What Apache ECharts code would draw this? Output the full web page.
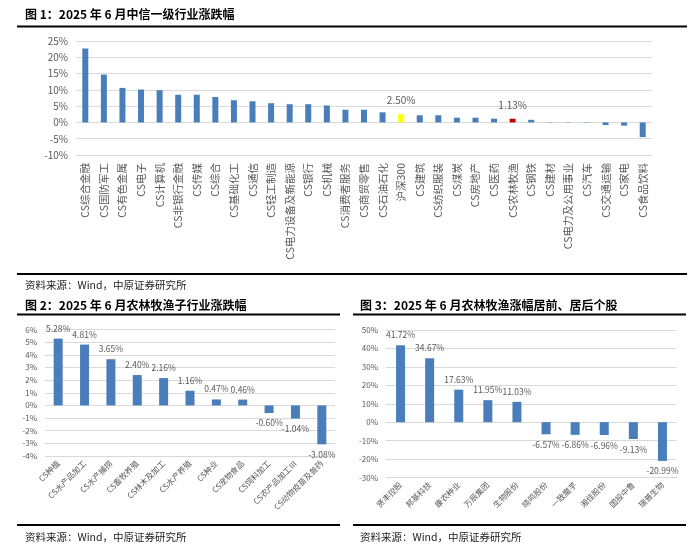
<!DOCTYPE html>
<html><head><meta charset="utf-8">
<script src="https://cdn.jsdelivr.net/npm/echarts@6/dist/echarts.min.js"></script>
<style>html,body{margin:0;padding:0;background:#fff}#c{width:700px;height:553px}</style>
</head><body><div id="c"></div>
<script>
// Chart 1: CITIC level-1 industries, June 2025 change (%)
const ind1Cats = ['CS综合金融','CS国防军工','CS有色金属','CS电子','CS计算机','CS非银行金融','CS传媒','CS综合','CS基础化工','CS通信','CS轻工制造','CS电力设备及新能源','CS银行','CS机械','CS消费者服务','CS商贸零售','CS石油石化','沪深300','CS建筑','CS纺织服装','CS煤炭','CS房地产','CS医药','CS农林牧渔','CS钢铁','CS建材','CS电力及公用事业','CS汽车','CS交通运输','CS家电','CS食品饮料'];
const ind1Vals = [22.7,14.7,10.6,10.1,9.9,8.5,8.5,7.8,6.8,6.5,5.9,5.6,5.6,5.2,3.9,3.9,3.1,2.50,2.2,2.2,1.45,1.45,1.15,1.13,0.8,0.1,-0.1,-0.1,-0.8,-1.0,-4.5];
const ind1Ticks = [-10,-5,0,5,10,15,20,25];
// Chart 2: agri sub-industries
const sub2Cats = ['CS种植','CS水产品加工','CS水产捕捞','CS畜牧养殖','CS林木及加工','CS水产养殖','CS种业','CS宠物食品','CS饲料加工','CS农产品加工Ⅲ','CS动物疫苗及兽药'];
const sub2Vals = [5.28,4.81,3.65,2.40,2.16,1.16,0.47,0.46,-0.60,-1.04,-3.08];
const sub2Ticks = [-4,-3,-2,-1,0,1,2,3,4,5,6];
// Chart 3: top / bottom stocks
const stk3Cats = ['贤丰控股','邦基科技','康农种业','万辰集团','生物股份','晓鸣股份','一致魔芋','湘佳股份','国投中鲁','瑞普生物'];
const stk3Vals = [41.72,34.67,17.63,11.95,11.03,-6.57,-6.86,-6.96,-9.13,-20.99];
const stk3Ticks = [-30,-20,-10,0,10,20,30,40,50];

const specialColor = {'沪深300':'#FFFF00','CS农林牧渔':'#C00000'};
const BLUE = '#4A7EBB';
const GRID = '#D9D9D9';
const LBL = '#595959';
const FONT = '"Noto Sans CJK SC", "Noto Sans", sans-serif';

const chart = echarts.init(document.getElementById('c'), null, {renderer:'canvas'});

function rng(t){return {min:t[0], max:t[t.length-1], interval:t[1]-t[0]};}
const pct = (p)=>p.value.toFixed(2)+'%';

const d1 = ind1Vals.map((v,i)=>{
  const c = ind1Cats[i];
  if (specialColor[c]) return {value:v, itemStyle:{color:specialColor[c]}, label:{show:true, position:'top', distance:9, formatter:pct, color:LBL, fontSize:10, fontFamily:FONT}};
  return {value:v};
});
const signed = (vals)=>vals.map(v=>({value:v, label:{position: v<0 ? 'bottom' : 'top'}}));

const hr = (x1,x2,y,w)=>({type:'line', shape:{x1:x1,y1:y,x2:x2,y2:y}, style:{stroke:'#000', lineWidth:w}, silent:true});
const txt = (x,y,t,opt)=>({type:'text', x:x, y:y, style:Object.assign({text:t, fill:'#000', font:'bold 12px '+FONT, textVerticalAlign:'middle'}, opt||{}), silent:true});

chart.setOption({
  animation:false,
  backgroundColor:'#fff',
  grid:[
    {left:76, right:48, top:41, bottom:398},
    {left:45, right:365, top:329.5, bottom:97},
    {left:386, right:23, top:330, bottom:75.5}
  ],
  xAxis:[
    {gridIndex:0, type:'category', data:ind1Cats, position:'bottom', axisLine:{show:false}, axisTick:{show:false},
     axisLabel:{rotate:90, interval:0, fontSize:10.5, color:LBL, fontFamily:FONT, margin:8}},
    {gridIndex:1, type:'category', data:sub2Cats, position:'bottom', axisLine:{show:false}, axisTick:{show:false},
     axisLabel:{rotate:45, interval:0, fontSize:8, color:LBL, fontFamily:FONT, margin:6}},
    {gridIndex:2, type:'category', data:stk3Cats, position:'bottom', axisLine:{show:false}, axisTick:{show:false},
     axisLabel:{rotate:45, interval:0, fontSize:8, color:LBL, fontFamily:FONT, margin:6}}
  ],
  yAxis:[
    Object.assign({gridIndex:0, type:'value', axisLine:{show:false}, axisTick:{show:false}, splitLine:{lineStyle:{color:GRID}},
     axisLabel:{formatter:'{value}%', fontSize:10, color:LBL, fontFamily:FONT, margin:8}}, rng(ind1Ticks)),
    Object.assign({gridIndex:1, type:'value', axisLine:{show:false}, axisTick:{show:false}, splitLine:{lineStyle:{color:GRID}},
     axisLabel:{formatter:'{value}%', fontSize:8, color:LBL, fontFamily:FONT, margin:8}}, rng(sub2Ticks)),
    Object.assign({gridIndex:2, type:'value', axisLine:{show:false}, axisTick:{show:false}, splitLine:{lineStyle:{color:GRID}},
     axisLabel:{formatter:'{value}%', fontSize:8, color:LBL, fontFamily:FONT, margin:8}}, rng(stk3Ticks))
  ],
  series:[
    {type:'bar', xAxisIndex:0, yAxisIndex:0, data:d1, barWidth:6, itemStyle:{color:BLUE}},
    {type:'bar', xAxisIndex:1, yAxisIndex:1, data:signed(sub2Vals), barWidth:9, itemStyle:{color:BLUE},
     label:{show:true, position:'top', distance:6, color:LBL, fontSize:8.5, fontFamily:FONT, formatter:pct}},
    {type:'bar', xAxisIndex:2, yAxisIndex:2, data:signed(stk3Vals), barWidth:9, itemStyle:{color:BLUE},
     label:{show:true, position:'top', distance:6, color:LBL, fontSize:8.5, fontFamily:FONT, formatter:pct}}
  ],
  graphic:[
    txt(25,14,'图 1：2025 年 6 月中信一级行业涨跌幅'),
    hr(17,687,26.5,2),
    hr(17,687,274,2),
    txt(25,285,'资料来源：Wind，中原证券研究所',{font:'10.5px '+FONT, fill:'#222'}),
    txt(25,305,'图 2：2025 年 6 月农林牧渔子行业涨跌幅'),
    hr(17,340,314.5,2),
    hr(17,340,525,2),
    txt(25,537,'资料来源：Wind，中原证券研究所',{font:'10.5px '+FONT, fill:'#222'}),
    txt(360,305,'图 3：2025 年 6 月农林牧渔涨幅居前、居后个股'),
    hr(353,686,314.5,2),
    hr(353,686,525,2),
    txt(360,537,'资料来源：Wind，中原证券研究所',{font:'10.5px '+FONT, fill:'#222'})
  ]
});
</script></body></html>
